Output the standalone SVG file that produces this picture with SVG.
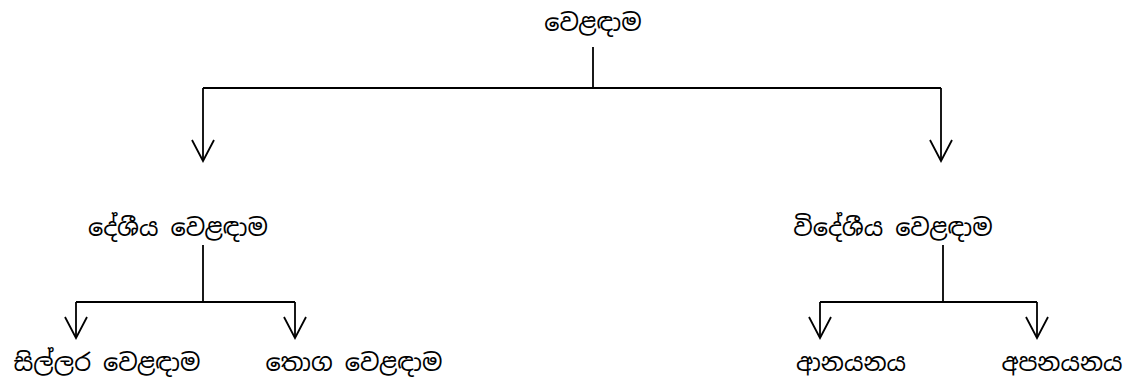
<svg xmlns="http://www.w3.org/2000/svg" width="1133" height="381" viewBox="0 0 1133 381">
<style>
text{font-family:"Noto Sans Sinhala","Noto Serif Sinhala","Noto Sans",sans-serif;font-size:24px;fill:#000;text-anchor:middle}
.c{fill:none;stroke:#000;stroke-width:1.8}
</style>
<defs>
<marker id="ah" markerWidth="26" markerHeight="26" refX="23" refY="13" orient="auto" markerUnits="userSpaceOnUse" viewBox="0 0 26 26">
<path d="M2 2 L23 13 L2 24" fill="none" stroke="#000" stroke-width="1.8"/>
</marker>
</defs>
<g id="connectors" class="c">
<path d="M593 47 V88"/>
<path d="M203 88 H941"/>
<path d="M203 88 V161" marker-end="url(#ah)"/>
<path d="M941 88 V161" marker-end="url(#ah)"/>
<path d="M203 245 V302"/>
<path d="M76 302 H295"/>
<path d="M76 302 V338" marker-end="url(#ah)"/>
<path d="M295 302 V338" marker-end="url(#ah)"/>
<path d="M943 245 V302"/>
<path d="M820 302 H1037"/>
<path d="M820 302 V338" marker-end="url(#ah)"/>
<path d="M1037 302 V338" marker-end="url(#ah)"/>
</g>
<g id="n-root"><text x="593" y="31">වෙළඳාම</text></g>
<g id="n-local"><text x="178" y="236">දේශීය වෙළඳාම</text></g>
<g id="n-foreign"><text x="893" y="236">විදේශීය වෙළඳාම</text></g>
<g id="n-retail"><text x="107" y="371">සිල්ලර වෙළඳාම</text></g>
<g id="n-wholesale"><text x="354" y="371">තොග වෙළඳාම</text></g>
<g id="n-import"><text x="851" y="371">ආනයනය</text></g>
<g id="n-export"><text x="1062" y="371">අපනයනය</text></g>
</svg>
